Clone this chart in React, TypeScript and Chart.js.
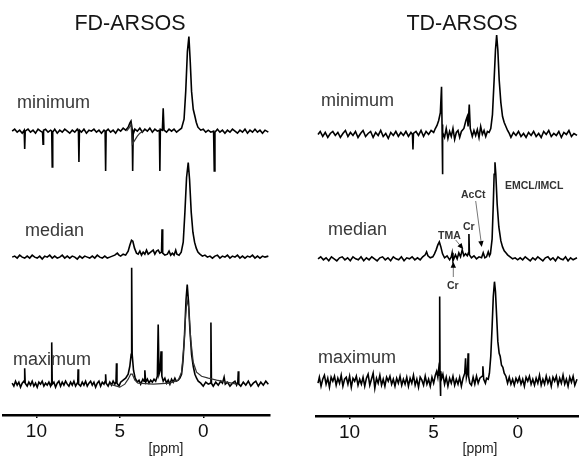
import React, { useEffect, useRef } from "react";
import { Chart, registerables } from "chart.js";

Chart.register(...registerables);

type Pt = [number, number];

// ---------- texts ----------
const X_TICKS = [10, 5, 0];
const ROW_LABELS = ["minimum", "median", "maximum"];
const TITLES = ["FD-ARSOS", "TD-ARSOS"];
const AXIS_LABEL = "[ppm]";
const ANNOT_LABELS = ["EMCL/IMCL", "AcCt", "Cr", "TMA", "Cr"];

// ---------- spectra: [ppm, intensity] ----------
const FD_MIN: Pt[] = [
  [11.45,0],[11.3,2],[11.15,-1],[11.0,1],[10.85,-2],[10.73,1],[10.7,-18],[10.67,0],[10.5,2],[10.35,-1],[10.2,1],[10.05,-2],[9.9,2],[9.75,0],[9.63,-1],[9.6,-13],[9.57,1],[9.45,2],[9.3,-1],[9.15,1],[9.08,0],[9.05,-36],[9.02,-1],[8.9,2],[8.75,-2],[8.6,1],[8.45,-1],[8.3,2],[8.15,0],[8.0,-2],[7.85,1],[7.7,-1],[7.55,2],[7.48,0],[7.45,-31],[7.42,1],[7.3,-1],[7.15,2],[7.0,-2],[6.85,1],[6.7,0],[6.55,2],[6.4,-1],[6.25,1],[6.1,-2],[5.95,1],[5.88,0],[5.85,-40],[5.82,0],[5.7,2],[5.55,-1],[5.4,1],[5.25,-2],[5.1,2],[4.95,0],[4.8,3],[4.65,1],[4.5,4],[4.4,8],[4.33,10],[4.26,2],[4.23,-40],[4.2,-3],[4.1,2],[3.95,0],[3.8,3],[3.65,-1],[3.5,2],[3.35,0],[3.2,3],[3.05,-1],[2.9,2],[2.75,0],[2.63,1],[2.6,-40],[2.57,2],[2.45,1],[2.4,23],[2.35,1],[2.2,-1],[2.05,2],[1.9,0],[1.75,2],[1.6,-1],[1.45,1],[1.3,3],[1.15,12],[1.05,40],[0.95,80],[0.86,95],[0.78,70],[0.7,40],[0.6,22],[0.5,15],[0.42,9],[0.32,4],[0.15,1],[0.0,2],[-0.15,-1],[-0.3,1],[-0.45,-1],[-0.62,0],[-0.66,-40],[-0.7,-1],[-0.85,2],[-1.0,-1],[-1.15,1],[-1.3,-2],[-1.45,1],[-1.6,-1],[-1.75,2],[-1.9,0],[-2.05,-2],[-2.2,1],[-2.35,-1],[-2.5,2],[-2.65,-2],[-2.8,1],[-2.95,-1],[-3.1,2],[-3.25,-1],[-3.4,1],[-3.55,-2],[-3.7,1],[-3.9,-1],
];
const FD_MIN_FIT: Pt[] = [
  [4.6,0],[4.45,3],[4.33,7],[4.25,-13],[4.1,-9],[3.95,-5],[3.8,-2],[3.6,0],
];
const FD_MED: Pt[] = [
  [11.45,0],[11.3,1],[11.15,-1],[11.0,2],[10.85,0],[10.7,-1],[10.55,1],[10.4,-1],[10.25,2],[10.1,0],[9.95,-1],[9.8,1],[9.65,-2],[9.5,1],[9.35,0],[9.2,2],[9.05,-1],[8.9,1],[8.75,-1],[8.6,0],[8.45,2],[8.3,-1],[8.15,1],[8.0,-1],[7.85,1],[7.7,0],[7.55,-2],[7.4,1],[7.25,-1],[7.1,1],[6.95,0],[6.8,-1],[6.65,1],[6.5,-1],[6.35,2],[6.2,0],[6.05,-1],[5.9,1],[5.75,-1],[5.6,0],[5.45,1],[5.3,2],[5.15,4],[5.05,2],[4.95,1],[4.8,3],[4.65,2],[4.5,6],[4.4,12],[4.3,17],[4.22,16],[4.12,9],[4.0,4],[3.9,3],[3.8,6],[3.7,2],[3.6,5],[3.5,3],[3.4,7],[3.3,3],[3.15,5],[3.0,7],[2.9,3],[2.8,6],[2.7,7],[2.6,4],[2.5,5],[2.47,28],[2.43,4],[2.3,2],[2.15,3],[2.05,6],[1.95,2],[1.85,4],[1.75,2],[1.65,7],[1.58,3],[1.45,2],[1.32,5],[1.2,15],[1.1,45],[1.0,80],[0.9,95],[0.82,78],[0.72,45],[0.62,25],[0.52,15],[0.42,9],[0.32,5],[0.2,3],[0.05,1],[-0.1,2],[-0.25,0],[-0.4,1],[-0.55,-1],[-0.7,1],[-0.85,2],[-1.0,-1],[-1.15,1],[-1.3,0],[-1.45,2],[-1.6,-1],[-1.75,1],[-1.9,0],[-2.05,2],[-2.2,-1],[-2.35,1],[-2.5,-1],[-2.65,1],[-2.8,0],[-2.95,2],[-3.1,-1],[-3.25,1],[-3.4,-1],[-3.55,1],[-3.7,0],[-3.9,1],
];
const FD_MAX: Pt[] = [
  [11.45,1],[11.35,-2],[11.25,3],[11.15,-1],[11.05,2],[10.95,-3],[10.85,1],[10.75,3],[10.72,2],[10.7,16],[10.67,1],[10.55,-2],[10.45,2],[10.35,-1],[10.25,3],[10.15,-2],[10.05,1],[9.95,-3],[9.85,2],[9.75,0],[9.65,3],[9.55,-2],[9.45,1],[9.35,-1],[9.25,2],[9.15,-2],[9.1,1],[9.08,42],[9.05,0],[8.95,2],[8.85,-3],[8.75,1],[8.65,3],[8.55,-2],[8.45,2],[8.35,-1],[8.25,3],[8.15,0],[8.05,-2],[7.95,2],[7.85,-1],[7.75,3],[7.65,-2],[7.55,1],[7.52,2],[7.5,15],[7.47,0],[7.35,-2],[7.25,2],[7.15,-1],[7.05,3],[6.95,-2],[6.85,1],[6.75,3],[6.65,-1],[6.55,2],[6.45,-3],[6.35,1],[6.25,3],[6.15,-2],[6.05,2],[5.95,0],[5.88,3],[5.85,10],[5.82,1],[5.7,-2],[5.6,2],[5.5,-1],[5.4,3],[5.3,0],[5.23,2],[5.2,21],[5.17,1],[5.05,-2],[4.95,2],[4.8,4],[4.65,6],[4.5,10],[4.4,18],[4.32,30],[4.29,117],[4.26,30],[4.18,14],[4.08,6],[3.95,2],[3.85,4],[3.75,0],[3.62,5],[3.55,3],[3.5,14],[3.45,2],[3.35,5],[3.25,1],[3.15,4],[3.05,2],[2.95,5],[2.85,3],[2.75,8],[2.7,60],[2.65,10],[2.58,14],[2.53,33],[2.48,8],[2.4,3],[2.3,6],[2.2,1],[2.1,4],[2.0,0],[1.9,5],[1.8,2],[1.7,6],[1.62,3],[1.5,4],[1.4,6],[1.3,10],[1.22,22],[1.12,50],[1.03,85],[0.96,100],[0.88,82],[0.8,55],[0.7,30],[0.6,18],[0.5,10],[0.4,6],[0.3,3],[0.15,1],[0.0,-2],[-0.15,2],[-0.3,0],[-0.43,1],[-0.46,62],[-0.49,1],[-0.6,-2],[-0.75,2],[-0.9,-1],[-1.05,3],[-1.15,1],[-1.25,7],[-1.32,0],[-1.45,2],[-1.6,-2],[-1.75,1],[-1.9,3],[-2.0,-1],[-2.07,2],[-2.1,13],[-2.13,0],[-2.25,-2],[-2.4,2],[-2.55,-1],[-2.7,3],[-2.85,-2],[-3.0,1],[-3.15,3],[-3.3,-2],[-3.45,2],[-3.6,-1],[-3.75,3],[-3.9,0],
];
const FD_MAX_FIT: Pt[] = [
  [5.6,0],[5.0,-3],[4.7,0],[4.5,5],[4.35,10],[4.25,10],[4.1,4],[3.9,1],[3.0,0],[2.0,1],[1.5,4],[1.3,12],[1.15,40],[1.05,70],[0.97,85],[0.88,78],[0.75,45],[0.6,22],[0.4,12],[0.1,8],[-0.3,6],[-0.8,4],[-1.4,2],[-2.0,0],
];
const TD_MIN: Pt[] = [
  [11.88,0],[11.75,3],[11.6,-2],[11.45,2],[11.3,-3],[11.15,1],[11.0,3],[10.85,-1],[10.7,2],[10.55,-3],[10.4,1],[10.25,4],[10.1,-2],[9.95,2],[9.8,-1],[9.65,3],[9.5,-3],[9.35,1],[9.2,4],[9.05,-2],[8.9,1],[8.75,3],[8.6,-3],[8.45,2],[8.3,-1],[8.15,4],[8.0,-2],[7.85,1],[7.7,-4],[7.55,2],[7.4,-1],[7.25,3],[7.1,-2],[6.95,2],[6.8,-1],[6.65,3],[6.5,-2],[6.35,2],[6.26,0],[6.23,-15],[6.2,1],[6.05,3],[5.9,-1],[5.75,4],[5.6,-2],[5.45,3],[5.3,0],[5.15,4],[5.0,2],[4.9,6],[4.8,9],[4.7,14],[4.6,22],[4.53,48],[4.5,10],[4.48,-40],[4.45,2],[4.35,-3],[4.25,6],[4.15,-4],[4.05,3],[3.95,-2],[3.85,6],[3.75,-5],[3.65,2],[3.55,4],[3.45,-3],[3.35,3],[3.2,6],[3.08,14],[3.0,18],[2.95,8],[2.88,30],[2.82,6],[2.7,-2],[2.6,4],[2.5,-1],[2.4,5],[2.3,-3],[2.2,8],[2.1,0],[2.0,4],[1.9,-2],[1.8,3],[1.7,2],[1.6,6],[1.5,20],[1.4,55],[1.32,85],[1.25,100],[1.18,85],[1.1,55],[1.0,32],[0.9,18],[0.8,12],[0.7,8],[0.6,4],[0.5,1],[0.4,-3],[0.25,2],[0.1,-1],[-0.05,3],[-0.2,-2],[-0.35,1],[-0.5,-3],[-0.65,2],[-0.8,-1],[-0.95,3],[-1.1,-2],[-1.25,1],[-1.4,-3],[-1.55,3],[-1.7,0],[-1.85,4],[-2.0,-2],[-2.15,1],[-2.3,-1],[-2.45,3],[-2.6,-3],[-2.75,2],[-2.9,0],[-3.05,4],[-3.2,-2],[-3.35,1],[-3.53,-1],
];
const TD_MED: Pt[] = [
  [11.88,0],[11.72,2],[11.56,-1],[11.4,1],[11.24,-2],[11.08,2],[10.92,0],[10.76,-2],[10.6,1],[10.44,2],[10.28,-1],[10.12,1],[9.96,-2],[9.8,2],[9.64,0],[9.48,-1],[9.32,2],[9.16,-2],[9.0,1],[8.84,-1],[8.68,2],[8.52,0],[8.36,-2],[8.2,1],[8.04,2],[7.88,-1],[7.72,1],[7.56,-2],[7.4,2],[7.24,0],[7.08,-1],[6.92,2],[6.76,-2],[6.6,1],[6.44,0],[6.28,2],[6.12,-1],[5.96,1],[5.8,-1],[5.65,2],[5.5,4],[5.42,7],[5.34,3],[5.2,1],[5.05,2],[4.95,5],[4.85,9],[4.75,14],[4.66,17],[4.57,12],[4.47,5],[4.35,1],[4.2,3],[4.05,-1],[3.95,2],[3.9,6],[3.85,-2],[3.7,4],[3.6,0],[3.5,6],[3.4,2],[3.3,9],[3.2,3],[3.1,5],[3.0,3],[2.93,6],[2.9,25],[2.87,4],[2.75,1],[2.6,3],[2.45,0],[2.3,2],[2.15,1],[2.05,6],[1.95,1],[1.85,2],[1.75,7],[1.68,3],[1.62,5],[1.52,20],[1.45,55],[1.4,85],[1.35,97],[1.3,85],[1.22,55],[1.12,32],[1.0,18],[0.9,12],[0.8,8],[0.7,6],[0.6,4],[0.45,2],[0.3,0],[0.15,1],[0,-1],[-0.15,1],[-0.3,-1],[-0.45,2],[-0.6,0],[-0.75,-2],[-0.9,1],[-1.05,-1],[-1.2,2],[-1.35,0],[-1.5,-2],[-1.65,1],[-1.8,2],[-1.95,-1],[-2.1,1],[-2.25,-2],[-2.4,2],[-2.55,0],[-2.7,-1],[-2.85,2],[-3.0,-2],[-3.15,1],[-3.3,-1],[-3.53,1],
];
const TD_MAX: Pt[] = [
  [11.88,-2],[11.8,4],[11.7,-5],[11.6,2],[11.5,6],[11.4,-3],[11.3,3],[11.2,-6],[11.1,4],[11.0,0],[10.9,5],[10.8,-4],[10.7,3],[10.6,-2],[10.5,6],[10.4,-5],[10.3,2],[10.2,4],[10.1,-3],[10.0,5],[9.9,-6],[9.8,3],[9.7,0],[9.6,5],[9.5,-4],[9.4,2],[9.3,-3],[9.2,4],[9.1,-5],[9.0,3],[8.9,7],[8.8,-4],[8.7,2],[8.6,8],[8.5,-7],[8.4,3],[8.3,-2],[8.2,6],[8.1,-4],[8.0,2],[7.9,-5],[7.8,4],[7.7,0],[7.6,5],[7.5,-3],[7.4,2],[7.3,-5],[7.2,3],[7.1,-2],[7.0,5],[6.9,-4],[6.8,2],[6.7,-3],[6.6,4],[6.5,-5],[6.4,3],[6.3,-2],[6.2,6],[6.1,-4],[6.0,2],[5.9,-6],[5.8,4],[5.7,1],[5.6,-4],[5.5,5],[5.4,-3],[5.3,2],[5.2,-5],[5.1,4],[5.0,-2],[4.9,6],[4.82,10],[4.75,4],[4.7,12],[4.66,6],[4.64,85],[4.62,8],[4.6,-15],[4.57,10],[4.52,3],[4.45,7],[4.35,-3],[4.25,4],[4.15,-5],[4.05,3],[3.95,-2],[3.85,5],[3.75,-4],[3.65,2],[3.55,-3],[3.45,4],[3.35,-5],[3.25,3],[3.15,8],[3.1,23],[3.05,4],[2.98,10],[2.95,28],[2.92,5],[2.85,-2],[2.75,-4],[2.65,4],[2.55,-3],[2.45,5],[2.35,-2],[2.25,3],[2.12,5],[2.07,15],[2.02,2],[1.92,-2],[1.85,3],[1.75,2],[1.68,8],[1.6,25],[1.52,55],[1.45,85],[1.38,100],[1.32,90],[1.25,65],[1.18,40],[1.1,28],[1.04,25],[0.96,16],[0.88,14],[0.8,8],[0.7,5],[0.6,-2],[0.5,4],[0.4,-3],[0.3,2],[0.2,-4],[0.1,3],[0.0,-1],[-0.1,4],[-0.2,-3],[-0.3,2],[-0.4,-5],[-0.5,4],[-0.6,0],[-0.7,5],[-0.8,-3],[-0.9,2],[-1.0,-4],[-1.1,3],[-1.2,-2],[-1.3,6],[-1.4,-4],[-1.5,2],[-1.6,-3],[-1.7,5],[-1.8,-2],[-1.9,3],[-2.0,-5],[-2.1,4],[-2.2,0],[-2.3,5],[-2.4,-4],[-2.5,3],[-2.6,-2],[-2.7,6],[-2.8,-3],[-2.9,2],[-3.0,-5],[-3.1,4],[-3.2,-1],[-3.3,5],[-3.4,-4],[-3.53,2],
];

// ---------- layout ----------
const FONT = "'Liberation Sans', Arial, Helvetica, sans-serif";
const H = 458;

interface SeriesCfg { data: Pt[]; axis: number; color: string; width: number; }
interface PanelCfg {
  left: number; width: number;
  padLeft: number; padRight: number;
  top: number; bottom: number;
  xMin: number; xMax: number;
  bases: number[];
  series: SeriesCfg[];
  title: string; titleX: number;
  rowX: number[]; rowY: number[];
  ppmX: number;
  annotations: boolean;
}

const PANELS: PanelCfg[] = [
  {
    left: 0, width: 290, padLeft: 3, padRight: 20, top: 30, bottom: 417,
    xMin: -4, xMax: 12, bases: [131.7, 258.3, 386],
    series: [
      { data: FD_MIN_FIT, axis: 0, color: "#333", width: 1.2 },
      { data: FD_MIN, axis: 0, color: "#000", width: 1.6 },
      { data: FD_MED, axis: 1, color: "#000", width: 1.6 },
      { data: FD_MAX_FIT, axis: 2, color: "#333", width: 1.2 },
      { data: FD_MAX, axis: 2, color: "#000", width: 1.6 },
    ],
    title: TITLES[0], titleX: 130,
    rowX: [17, 25, 13], rowY: [108, 236, 365],
    ppmX: 166, annotations: false,
  },
  {
    left: 290, width: 289, padLeft: 26, padRight: 0, top: 30, bottom: 418,
    xMin: -3.65, xMax: 12, bases: [135, 260, 383],
    series: [
      { data: TD_MIN, axis: 0, color: "#000", width: 1.6 },
      { data: TD_MED, axis: 1, color: "#000", width: 1.6 },
      { data: TD_MAX, axis: 2, color: "#000", width: 1.6 },
    ],
    title: TITLES[1], titleX: 172,
    rowX: [31, 38, 28], rowY: [106, 235, 363],
    ppmX: 190, annotations: true,
  },
];

function arrowHead(ctx: CanvasRenderingContext2D, fx: number, fy: number, tx: number, ty: number, size: number) {
  const a = Math.atan2(ty - fy, tx - fx);
  ctx.beginPath();
  ctx.moveTo(tx, ty);
  ctx.lineTo(tx - size * Math.cos(a) + (size * 0.45) * Math.sin(a), ty - size * Math.sin(a) - (size * 0.45) * Math.cos(a));
  ctx.lineTo(tx - size * Math.cos(a) - (size * 0.45) * Math.sin(a), ty - size * Math.sin(a) + (size * 0.45) * Math.cos(a));
  ctx.closePath();
  ctx.fill();
}

function makeTextPlugin(p: PanelCfg) {
  return {
    id: "panelText",
    afterDraw(chart: any) {
      const ctx: CanvasRenderingContext2D = chart.ctx;
      ctx.save();
      ctx.textBaseline = "alphabetic";
      ctx.fillStyle = "#161616";
      ctx.textAlign = "center";
      ctx.font = `21.5px ${FONT}`;
      ctx.fillText(p.title, p.titleX, 30);

      ctx.textAlign = "left";
      ctx.fillStyle = "#383838";
      ctx.font = `18px ${FONT}`;
      ROW_LABELS.forEach((t, i) => ctx.fillText(t, p.rowX[i], p.rowY[i]));

      ctx.textAlign = "center";
      ctx.fillStyle = "#222";
      ctx.font = `14px ${FONT}`;
      ctx.fillText(AXIS_LABEL, p.ppmX, 453);

      if (p.annotations) {
        ctx.textAlign = "left";
        ctx.fillStyle = "#333";
        ctx.font = `bold 10.5px ${FONT}`;
        const pos: [number, number][] = [[215, 188.5], [171, 198.3], [173, 229.5], [148, 238.5], [157, 288.5]];
        ANNOT_LABELS.forEach((t, i) => ctx.fillText(t, pos[i][0], pos[i][1]));

        ctx.strokeStyle = "#777";
        ctx.lineWidth = 1;
        ctx.fillStyle = "#000";
        // AcCt arrow
        ctx.beginPath(); ctx.moveTo(185.7, 201); ctx.lineTo(191, 241); ctx.stroke();
        arrowHead(ctx, 185.7, 201, 191.7, 247, 6);
        // TMA arrow
        ctx.beginPath(); ctx.moveTo(165.7, 240); ctx.lineTo(171, 246.5); ctx.stroke();
        arrowHead(ctx, 165.7, 240, 173.3, 249.3, 6);
        // lower Cr arrow
        ctx.beginPath(); ctx.moveTo(163.3, 277); ctx.lineTo(163.3, 266); ctx.stroke();
        arrowHead(ctx, 163.3, 277, 163.3, 261.7, 6);
      }
      ctx.restore();
    },
  };
}

function buildConfig(p: PanelCfg): any {
  const scales: any = {
    x: {
      type: "linear",
      min: p.xMin,
      max: p.xMax,
      reverse: true,
      afterBuildTicks: (s: any) => { s.ticks = X_TICKS.map((v) => ({ value: v })); },
      grid: { display: true, drawOnChartArea: false, drawTicks: true, tickLength: 3, color: "#000", lineWidth: 1.5 },
      border: { display: true, color: "#000", width: 2.5 },
      ticks: { color: "#111", font: { family: FONT, size: 19 }, padding: 2, maxRotation: 0, autoSkip: false },
    },
  };
  p.bases.forEach((b, i) => {
    scales["y" + i] = { display: false, type: "linear", min: -(p.bottom - b), max: b - p.top };
  });
  const axisH = 3 + 2 + 19 * 1.2;
  return {
    type: "line",
    data: {
      datasets: p.series.map((s) => ({
        data: s.data.map(([x, y]) => ({ x, y })),
        yAxisID: "y" + s.axis,
        borderColor: s.color,
        borderWidth: s.width,
        pointRadius: 0,
        fill: false,
        tension: 0,
        clip: false,
      })),
    },
    options: {
      animation: false,
      responsive: false,
      layout: { padding: { left: p.padLeft, right: p.padRight, top: p.top, bottom: H - p.bottom - axisH } },
      plugins: { legend: { display: false }, tooltip: { enabled: false } },
      scales,
    },
    plugins: [makeTextPlugin(p)],
  };
}

function Panel({ p }: { p: PanelCfg }) {
  const ref = useRef<HTMLCanvasElement>(null);
  useEffect(() => {
    if (!ref.current) return;
    const chart = new Chart(ref.current, buildConfig(p));
    return () => chart.destroy();
  }, [p]);
  return (
    <div style={{ position: "absolute", left: p.left, top: 0, width: p.width, height: H }}>
      <canvas ref={ref} width={p.width} height={H} style={{ display: "block" }} />
    </div>
  );
}

export default function App() {
  return (
    <div style={{ position: "absolute", left: 0, top: 0, width: 579, height: H, background: "#fff", overflow: "hidden" }}>
      {PANELS.map((p, i) => <Panel key={i} p={p} />)}
    </div>
  );
}
